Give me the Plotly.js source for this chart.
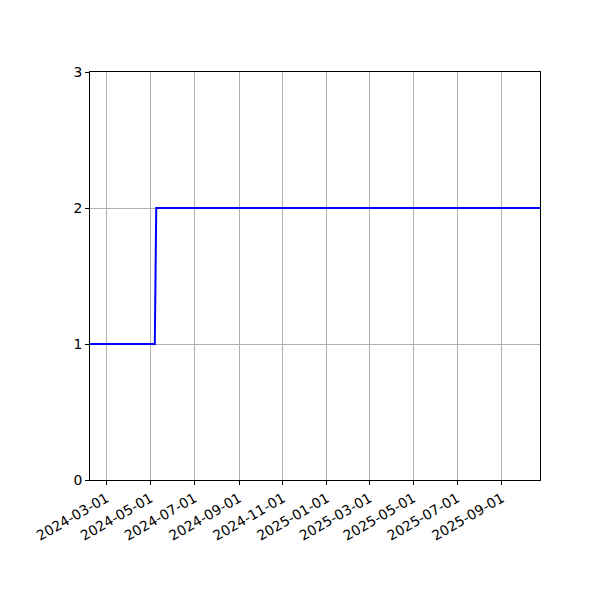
<!DOCTYPE html>
<html>
<head>
<meta charset="utf-8">
<script src="https://cdn.plot.ly/plotly-3.0.1.min.js"></script>
<style>html,body{margin:0;padding:0;background:#fff}#chart{width:600px;height:600px}</style>
</head>
<body>
<div id="chart"></div>
<script>
const dates = ['2024-02-07', '2024-05-07', '2024-05-09', '2025-10-24'];
const values = [1, 1, 2, 2];
const xTicks = ['2024-03-01','2024-05-01','2024-07-01','2024-09-01','2024-11-01','2025-01-01','2025-03-01','2025-05-01','2025-07-01','2025-09-01'];
const yTicks = [0, 1, 2, 3];

const trace = {
  x: dates, y: values, type: 'scatter', mode: 'lines',
  line: {color: '#0000ff', width: 2}, hoverinfo: 'skip'
};
const axisCommon = {
  showline: true, linecolor: '#000', linewidth: 1, mirror: true,
  ticks: 'outside', ticklen: 4, tickcolor: '#000', tickwidth: 1,
  showgrid: true, gridcolor: '#b0b0b0', gridwidth: 1, zeroline: false,
  tickfont: {family: 'DejaVu Sans', size: 13.9, color: '#000'}
};
const layout = {
  width: 600, height: 600,
  margin: {l: 90, r: 60, t: 72, b: 120},
  paper_bgcolor: '#fff', plot_bgcolor: '#fff',
  showlegend: false,
  xaxis: Object.assign({}, axisCommon, {
    type: 'date', range: [dates[0], dates[dates.length-1]],
    tickvals: xTicks, ticktext: xTicks, tickangle: -30
  }),
  yaxis: Object.assign({}, axisCommon, {
    range: [0, 3], tickvals: yTicks, ticktext: yTicks.map(String)
  })
};
Plotly.newPlot('chart', [trace], layout, {staticPlot: true, displayModeBar: false});
</script>
</body>
</html>
